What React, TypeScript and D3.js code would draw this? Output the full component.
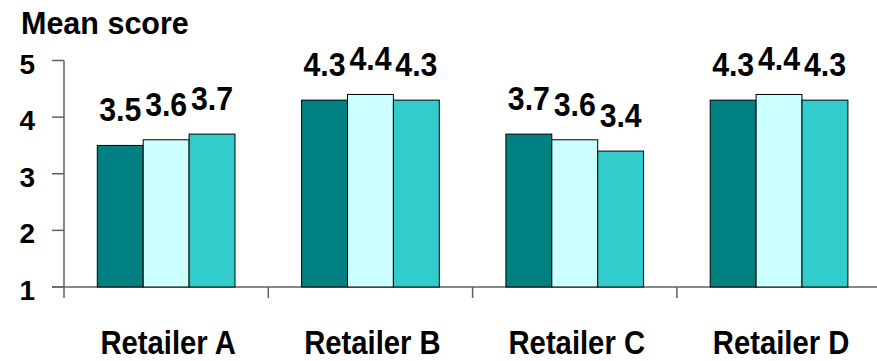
import React from "react";
import * as d3 from "d3";

const categories = ["Retailer A", "Retailer B", "Retailer C", "Retailer D"];
const seriesNames = ["Series 1", "Series 2", "Series 3"];
const series1 = [3.5, 4.3, 3.7, 4.3];
const series2 = [3.6, 4.4, 3.6, 4.4];
const series3 = [3.7, 4.3, 3.4, 4.3];
const seriesValues = [series1, series2, series3];
const colors = ["#008080", "#CCFFFF", "#33CCCC"];
const yTicks = [1, 2, 3, 4, 5];
const title = "Mean score";

const W = 877;
const H = 361;
const FONT = "'Liberation Sans', Arial, sans-serif";

export default function App() {
  const left = 64;
  const x0 = d3.scaleBand<string>().domain(categories).range([left, left + 4 * 204.3]).padding(0);
  const bw = x0.bandwidth();
  const pad = 33.3;
  const x1 = d3.scaleBand<string>().domain(seriesNames).range([pad, bw - pad]).padding(0);
  const y = d3.scaleLinear().domain([1, 5]).range([287, 60.5]);
  const axisColor = "#606060";

  return (
    <svg width={W} height={H} style={{ position: "absolute", left: 0, top: 0, background: "#fff" }}>
      <rect x={0} y={0} width={W} height={H} fill="#fff" />
      <text x={21} y={33.5} fontFamily={FONT} fontWeight="bold" fontSize={30.5} fill="#000">
        {title}
      </text>
      {/* y axis */}
      <line x1={left} x2={left} y1={y(5)} y2={y(1) + 11} stroke={axisColor} strokeWidth={1.5} />
      {yTicks.map((t) => (
        <g key={t}>
          <line x1={left - 12} x2={left} y1={y(t)} y2={y(t)} stroke={axisColor} strokeWidth={1.5} />
          <text
            x={35}
            y={y(t) + 13}
            textAnchor="end"
            fontFamily={FONT}
            fontWeight="bold"
            fontSize={28}
            fill="#000"
          >
            {t}
          </text>
        </g>
      ))}
      {/* x axis */}
      <line x1={left - 12} x2={W} y1={y(1)} y2={y(1)} stroke={axisColor} strokeWidth={1.5} />
      {categories.map((c, i) =>
        i > 0 ? (
          <line key={c} x1={x0(c)!} x2={x0(c)!} y1={y(1)} y2={y(1) + 11} stroke={axisColor} strokeWidth={1.5} />
        ) : null
      )}
      {/* bars */}
      {categories.map((c, i) => (
        <g key={c} transform={`translate(${x0(c)},0)`}>
          {seriesNames.map((s, j) => {
            const v = seriesValues[j][i];
            const bx = x1(s)!;
            return (
              <rect
                key={s}
                x={bx}
                y={y(v)}
                width={x1.bandwidth()}
                height={y(1) - y(v)}
                fill={colors[j]}
                stroke="#000"
                strokeWidth={1}
              />
            );
          })}
          {seriesNames.map((s, j) => {
            const v = seriesValues[j][i];
            const cx = x1(s)! + x1.bandwidth() / 2;
            return (
              <g key={s + "l"} transform={`translate(${cx},${y(v) - 24}) scale(0.89,1)`}>
                <text textAnchor="middle" fontFamily={FONT} fontWeight="bold" fontSize={34} fill="#000">
                  {v.toFixed(1)}
                </text>
              </g>
            );
          })}
          <g transform={`translate(${bw / 2 + 2},354) scale(0.9,1)`}>
            <text textAnchor="middle" fontFamily={FONT} fontWeight="bold" fontSize={32.5} fill="#000">
              {c}
            </text>
          </g>
        </g>
      ))}
    </svg>
  );
}
